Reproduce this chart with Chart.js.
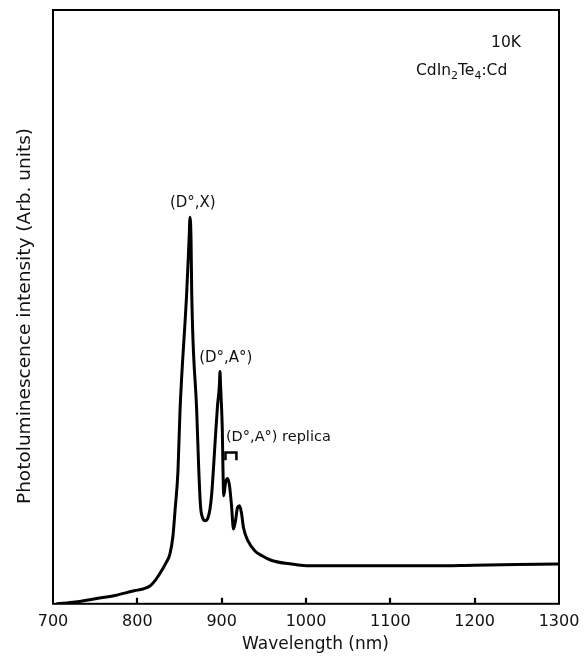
<!DOCTYPE html>
<html>
<head>
<meta charset="utf-8">
<script src="https://cdn.jsdelivr.net/npm/chart.js@4/dist/chart.umd.min.js"></script>
<style>
  html, body { margin: 0; padding: 0; background: #fff; }
  canvas { display: block; }
</style>
</head>
<body>
<canvas id="c" width="584" height="661"></canvas>
<script>
// ---- data ----
const wavelength = [705, 726, 752, 773.5, 796.4, 806.7, 815, 821, 828.9, 834,
  838.7, 842.3, 844.7, 848.2, 850.6, 858.5, 861.3, 862.5, 863.7, 864.5,
  870.4, 872.9, 874.9, 877.3, 880.6, 883.8, 886.2, 888.2, 890.1, 892.1,
  895.1, 897.3, 898.0, 898.7, 899.5, 900.7, 901.6, 902.4, 904.6, 906.9,
  909.3, 911.7, 914.0, 916.4, 918.8, 921.2, 923.5, 925.9, 931.2, 939.5,
  947.8, 959.3, 983, 1005, 1050, 1100, 1150, 1200, 1250, 1300];
const intensity = [0, 0.3, 0.9, 1.4, 2.2, 2.5, 3.0, 3.9, 5.6, 6.9,
  8.4, 11.5, 15.7, 22.4, 32.5, 52.3, 61.2, 65.1, 61.2, 52.3,
  32.5, 22.4, 16.5, 14.5, 14.0, 14.5, 16.0, 18.5, 22.4, 27.0,
  33.4, 36.8, 39.1, 36.8, 34.2, 29.7, 22.4, 18.2, 20.4, 21.1,
  19.9, 16.5, 12.6, 14.0, 16.2, 16.5, 15.3, 12.8, 10.6, 8.9,
  8.1, 7.3, 6.7, 6.4, 6.4, 6.4, 6.4, 6.5, 6.6, 6.7];
const xTickValues = [700, 800, 900, 1000, 1100, 1200, 1300];
const xTitle = 'Wavelength (nm)';
const yTitle = 'Photoluminescence intensity (Arb. units)';
const peakLabels = [
  { text: '(D°,X)', x: 865.8, y: 67.4 },
  { text: '(D°,A°)', x: 904.9, y: 41.4 }
];
const replicaLabel = { text: '(D°,A°) replica', x: 905.1, y: 28.0, bx0: 904.5, bx1: 917.5, by0: 25.5, by1: 24.5 };
const tempLabel = { text: '10K', x: 1237.2, y: 94.4 };
const sampleParts = [['Cd', false], ['In', false], ['2', true], ['Te', false], ['4', true], [':Cd', false]];
const sampleAnchor = { x: 1130.4, y: 89.0 };

const FONT = "'DejaVu Sans', 'Liberation Sans', Arial, sans-serif";

const decor = {
  id: 'decor',
  afterDraw(chart) {
    const ctx = chart.ctx;
    const a = chart.chartArea;
    const xs = chart.scales.x, ys = chart.scales.y;
    ctx.save();
    ctx.strokeStyle = '#000';
    ctx.fillStyle = '#111';
    // frame
    ctx.lineWidth = 2;
    ctx.strokeRect(a.left, a.top, a.right - a.left, a.bottom - a.top);
    // inward ticks
    ctx.lineWidth = 2.2;
    xTickValues.forEach(v => {
      if (v === xs.min || v === xs.max) return;
      const px = Math.round(xs.getPixelForValue(v));
      ctx.beginPath();
      ctx.moveTo(px, a.bottom);
      ctx.lineTo(px, a.bottom - 6);
      ctx.stroke();
    });
    // axis titles
    ctx.textAlign = 'center';
    ctx.textBaseline = 'middle';
    ctx.font = '17px ' + FONT;
    ctx.fillText(xTitle, 315.5, 645);
    ctx.save();
    ctx.translate(25, 316);
    ctx.rotate(-Math.PI / 2);
    ctx.font = '18.5px ' + FONT;
    ctx.fillText(yTitle, 0, 0);
    ctx.restore();
    // peak labels
    ctx.font = '15px ' + FONT;
    peakLabels.forEach(l => {
      ctx.fillText(l.text, xs.getPixelForValue(l.x), ys.getPixelForValue(l.y));
    });
    // replica label + bracket
    ctx.textAlign = 'left';
    ctx.font = '14.5px ' + FONT;
    ctx.fillText(replicaLabel.text, xs.getPixelForValue(replicaLabel.x), ys.getPixelForValue(replicaLabel.y));
    const bx0 = xs.getPixelForValue(replicaLabel.bx0), bx1 = xs.getPixelForValue(replicaLabel.bx1);
    const by0 = ys.getPixelForValue(replicaLabel.by0), by1 = ys.getPixelForValue(replicaLabel.by1);
    ctx.lineWidth = 2.5;
    ctx.beginPath();
    ctx.moveTo(bx0, by1 + 2);
    ctx.lineTo(bx0, by0);
    ctx.lineTo(bx1, by0);
    ctx.lineTo(bx1, by1 + 2);
    ctx.stroke();
    // temperature
    ctx.textAlign = 'center';
    ctx.font = '15.5px ' + FONT;
    ctx.fillText(tempLabel.text, xs.getPixelForValue(tempLabel.x), ys.getPixelForValue(tempLabel.y));
    // sample name with subscripts
    ctx.textAlign = 'left';
    ctx.textBaseline = 'alphabetic';
    let cx = xs.getPixelForValue(sampleAnchor.x);
    const cy = ys.getPixelForValue(sampleAnchor.y);
    sampleParts.forEach(([t, sub]) => {
      ctx.font = (sub ? '11px ' : '15.5px ') + FONT;
      ctx.fillText(t, cx, sub ? cy + 3.5 : cy);
      cx += ctx.measureText(t).width;
    });
    ctx.restore();
  }
};

Chart.defaults.font.family = FONT;
Chart.defaults.color = '#111';

new Chart(document.getElementById('c'), {
  type: 'line',
  data: {
    datasets: [{
      data: wavelength.map((w, i) => ({ x: w, y: intensity[i] })),
      borderColor: '#000',
      borderWidth: 3,
      pointRadius: 0,
      fill: false,
      cubicInterpolationMode: 'monotone',
      borderJoinStyle: 'round',
      borderCapStyle: 'round'
    }]
  },
  options: {
    responsive: false,
    animation: false,
    devicePixelRatio: 1,
    layout: { padding: { left: 53, right: 25, top: 10, bottom: 22 } },
    plugins: { legend: { display: false }, tooltip: { enabled: false } },
    scales: {
      x: {
        type: 'linear',
        min: 700,
        max: 1300,
        afterBuildTicks: s => { s.ticks = xTickValues.map(v => ({ value: v })); },
        afterFit: s => { s.paddingLeft = 0; s.paddingRight = 0; },
        grid: { display: false, drawTicks: false },
        border: { display: false },
        ticks: { font: { size: 16 }, padding: 8, color: '#111', maxRotation: 0, callback: v => String(v) }
      },
      y: {
        display: false,
        min: 0,
        max: 100
      }
    }
  },
  plugins: [decor]
});
</script>
</body>
</html>
